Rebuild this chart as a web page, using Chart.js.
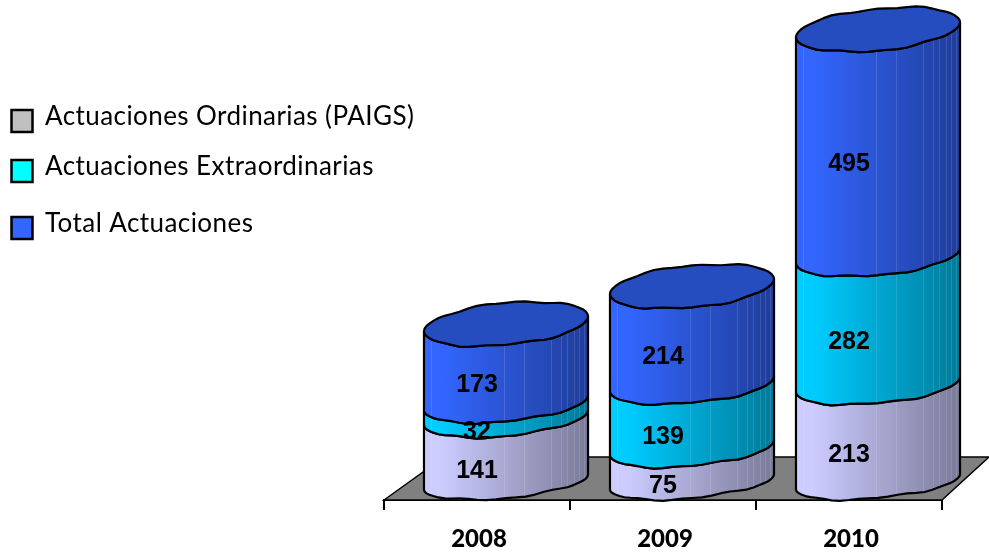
<!DOCTYPE html>
<html><head><meta charset="utf-8">
<style>html,body{margin:0;padding:0;background:#fff}#w{width:989px;height:553px;position:relative}</style>
<script src="https://cdn.jsdelivr.net/npm/chart.js@4/dist/chart.umd.js"></script>
</head><body><div id="w"><canvas id="c" width="989" height="553"></canvas></div>
<script>
const categories = ["2008", "2009", "2010"];
const ordinarias = [141, 75, 213];
const extraordinarias = [32, 139, 282];
const totalActuaciones = [173, 214, 495];
const seriesNames = ["Actuaciones Ordinarias (PAIGS)", "Actuaciones Extraordinarias", "Total Actuaciones"];
const sideColors = ["#ccccff", "#00ccff", "#3366ff"];
const sideDark = ["#7a7a99", "#007a99", "#1f3d99"];
const legendColors = ["#c0c0c0", "#00ffff", "#3366ff"];
const capColor = "#264dbf";
const yMax = 1000;

const depth = {x: 29, y: -18};
const seams = [.045,.486,.608,.777,.838,.874,.913,.945,.974];
const legendRows = [{box:110,text:117},{box:160,text:167},{box:217,text:224}];

function rim(cx, cy, a, k, e, front, phase) {
  const pts = [], n = 26;
  for (let i = 0; i <= n; i++) {
    const u = Math.PI * i / n, dx = -a * Math.cos(u);
    const wob = .8 * Math.sin(5 * u + phase) * Math.sin(u) + .7 * Math.sin(11 * u + phase) * Math.sin(u);
    pts.push([cx + dx, cy - k * dx / a + (front ? 1 : -1) * e * Math.sin(u) + wob]);
  }
  return pts;
}
function trace(ctx, pts, move) {
  pts.forEach((p, i) => (i === 0 && move) ? ctx.moveTo(p[0], p[1]) : ctx.lineTo(p[0], p[1]));
}
const cylinderPlugin = {
  id: "cylinders",
  beforeDatasetsDraw(chart) {
    const {ctx, chartArea: ca} = chart;
    ctx.save();
    ctx.fillStyle = "#808080"; ctx.strokeStyle = "#000"; ctx.lineWidth = 1.5;
    ctx.beginPath();
    ctx.moveTo(ca.left, ca.bottom); ctx.lineTo(ca.left + 60, ca.bottom - 43);
    ctx.lineTo(ca.right + 47, ca.bottom - 43); ctx.lineTo(ca.right, ca.bottom); ctx.closePath();
    ctx.fill(); ctx.stroke();
    ctx.restore();
  },
  afterDatasetsDraw(chart) {
    const {ctx} = chart;
    const metas = chart.data.datasets.map((d, i) => chart.getDatasetMeta(i));
    categories.forEach((cat, ci) => {
      metas.forEach((meta, di) => {
        const bar = meta.data[ci];
        const cx = bar.x + depth.x, a = bar.width / 2;
        const yT = bar.y + depth.y, yB = bar.base + depth.y;
        const eT = 18 + (482 - yT) * .006, eB = (di === 0 ? 16 : 18) + (482 - yB) * .006;
        const k = 7.5;
        const lower = rim(cx, yB, a, k, eB, true, ci * 1.3 + di);
        const upper = rim(cx, yT, a, k, di === 2 ? 21 : eT, true, ci * 1.3 + di + 1);
        const g = ctx.createLinearGradient(cx - a, 0, cx + a, 0);
        g.addColorStop(0, sideColors[di]); g.addColorStop(.1, sideColors[di]); g.addColorStop(1, sideDark[di]);
        ctx.save();
        ctx.beginPath();
        trace(ctx, lower, true); trace(ctx, upper.slice().reverse(), false); ctx.closePath();
        ctx.fillStyle = g; ctx.fill();
        ctx.save(); ctx.clip();
        ctx.strokeStyle = "rgba(255,255,255,.13)"; ctx.lineWidth = 1;
        seams.forEach(s => {
          const x = Math.round(cx - a + s * 2 * a) + .5;
          ctx.beginPath(); ctx.moveTo(x, yT - 40); ctx.lineTo(x, yB + 40); ctx.stroke();
        });
        ctx.restore();
        ctx.strokeStyle = "#000"; ctx.lineWidth = 2.2; ctx.lineJoin = "round";
        ctx.beginPath();
        trace(ctx, lower, true); trace(ctx, upper.slice().reverse(), false); ctx.closePath();
        ctx.stroke();
        if (di === 2) {
          const back = rim(cx, yT, a, k, 21, false, ci * 1.3 + 4);
          ctx.beginPath();
          trace(ctx, upper, true); trace(ctx, back.slice().reverse(), false); ctx.closePath();
          ctx.fillStyle = capColor; ctx.fill(); ctx.stroke();
        }
        ctx.restore();
      });
    });
    ctx.save();
    ctx.fillStyle = "#000"; ctx.font = "bold 25px 'Liberation Sans'";
    ctx.textAlign = "center"; ctx.textBaseline = "middle";
    metas.forEach((meta, di) => meta.data.forEach((bar, ci) => {
      ctx.fillText(String(chart.data.datasets[di].data[ci]), bar.x, (bar.y + bar.base) / 2 + 3.5);
    }));
    ctx.restore();
    ctx.save();
    chart.data.datasets.forEach((d, i) => {
      const r = legendRows[i];
      ctx.fillStyle = legendColors[i]; ctx.strokeStyle = "#000"; ctx.lineWidth = 2.5;
      ctx.fillRect(11.5, r.box, 21, 22); ctx.strokeRect(11.5, r.box, 21, 22);
      ctx.fillStyle = "#000"; ctx.font = "26px Lato"; ctx.letterSpacing = "0.43px";
      ctx.textAlign = "left"; ctx.textBaseline = "middle";
      ctx.fillText(d.label, 45, r.text);
    });
    ctx.restore();
  }
};

const clear = "rgba(0,0,0,0)";
new Chart(document.getElementById("c"), {
  type: "bar",
  data: {
    labels: categories,
    datasets: [
      {label: seriesNames[0], data: ordinarias, backgroundColor: clear},
      {label: seriesNames[1], data: extraordinarias, backgroundColor: clear},
      {label: seriesNames[2], data: totalActuaciones, backgroundColor: clear}
    ]
  },
  options: {
    responsive: false, animation: false,
    layout: {padding: {left: 384, right: 47, top: 43, bottom: 0}},
    plugins: {legend: {display: false}, tooltip: {enabled: false}},
    datasets: {bar: {categoryPercentage: 1, barPercentage: .882}},
    scales: {
      x: {
        stacked: true,
        afterFit(s) { s.height = 53; },
        border: {color: "#000", width: 2},
        grid: {drawOnChartArea: false, drawTicks: true, tickLength: 10, color: "#000", lineWidth: 2},
        ticks: {color: "#000", font: {family: "Lato", weight: "900", size: 24}, padding: 15, labelOffset: 2, maxRotation: 0}
      },
      y: {stacked: true, display: false, min: 0, max: yMax}
    }
  },
  plugins: [cylinderPlugin]
});
</script></body></html>
